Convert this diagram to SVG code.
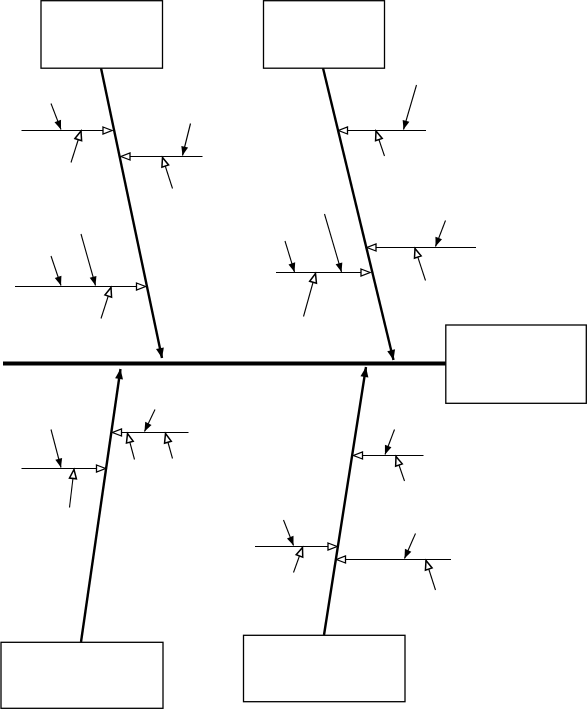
<svg xmlns="http://www.w3.org/2000/svg" width="587" height="709" viewBox="0 0 587 709">
<style>
.box{fill:#fff;stroke:#000;stroke-width:1.3}
.spine{stroke:#000;stroke-width:4;fill:none}
.bone{stroke:#000;stroke-width:2.4;fill:none;marker-end:url(#mBone)}
.rib{stroke:#000;stroke-width:1.2;fill:none;marker-end:url(#mRib)}
.subd{stroke:#000;stroke-width:1.1;fill:none;marker-end:url(#mFill)}
.subu{stroke:#000;stroke-width:1.1;fill:none;marker-end:url(#mHollow)}
</style>
<defs>
<marker id="mBone" markerUnits="userSpaceOnUse" markerWidth="12" markerHeight="10" refX="10" refY="4" orient="auto" overflow="visible"><path d="M0,0 L10,4 L0,8 z" fill="#000"/></marker>
<marker id="mRib" markerUnits="userSpaceOnUse" markerWidth="12" markerHeight="10" refX="9" refY="3.5" orient="auto" overflow="visible"><path d="M0,0 L9,3.5 L0,7 z" fill="#fff" stroke="#000" stroke-width="1.3"/></marker>
<marker id="mFill" markerUnits="userSpaceOnUse" markerWidth="12" markerHeight="10" refX="9" refY="3.5" orient="auto" overflow="visible"><path d="M0,0 L9,3.5 L0,7 z" fill="#000"/></marker>
<marker id="mHollow" markerUnits="userSpaceOnUse" markerWidth="12" markerHeight="10" refX="9" refY="3.5" orient="auto" overflow="visible"><path d="M0,0 L9,3.5 L0,7 z" fill="#fff" stroke="#000" stroke-width="1.5"/></marker>
</defs>
<rect width="587" height="709" fill="#fff"/>
<g id="connectors">
<line class="spine" x1="3" y1="363.5" x2="446" y2="363.5"/>
<line class="bone" x1="101" y1="68" x2="162" y2="358"/>
<line class="bone" x1="323" y1="68" x2="393.5" y2="360"/>
<line class="bone" x1="81" y1="642" x2="120.5" y2="369"/>
<line class="bone" x1="324" y1="635" x2="366" y2="367"/>
<!-- top-left ribs -->
<line class="rib" x1="21.5" y1="130.5" x2="112" y2="130.5"/>
<line class="subd" x1="51" y1="103.5" x2="61" y2="129.5"/>
<line class="subu" x1="71" y1="162.5" x2="81" y2="131"/>
<line class="rib" x1="202.5" y1="156.5" x2="121" y2="156.5"/>
<line class="subd" x1="190.5" y1="123.5" x2="182.5" y2="155.5"/>
<line class="subu" x1="172.5" y1="188.5" x2="162.5" y2="157.5"/>
<line class="rib" x1="15" y1="286.5" x2="145.5" y2="286.5"/>
<line class="subd" x1="51" y1="256" x2="61" y2="285.5"/>
<line class="subd" x1="81" y1="234" x2="95.5" y2="285.5"/>
<line class="subu" x1="101" y1="318.5" x2="111" y2="287.5"/>
<!-- top-right ribs -->
<line class="rib" x1="426" y1="130.5" x2="338.5" y2="130.5"/>
<line class="subd" x1="416.5" y1="85" x2="403.5" y2="129.5"/>
<line class="subu" x1="384.5" y1="156" x2="376" y2="131"/>
<line class="rib" x1="476" y1="247.5" x2="367" y2="247.5"/>
<line class="subd" x1="445.5" y1="220.5" x2="435.5" y2="246.5"/>
<line class="subu" x1="425.5" y1="280.5" x2="415" y2="248.5"/>
<line class="rib" x1="276" y1="272.5" x2="370" y2="272.5"/>
<line class="subd" x1="285" y1="241" x2="294.5" y2="272"/>
<line class="subd" x1="324.5" y1="214" x2="341.5" y2="272"/>
<line class="subu" x1="303.5" y1="316.5" x2="315.5" y2="273.5"/>
<!-- bottom-left ribs -->
<line class="rib" x1="188.5" y1="432.5" x2="112.5" y2="432.5"/>
<line class="subd" x1="155" y1="409.5" x2="144.5" y2="431.5"/>
<line class="subu" x1="134.5" y1="459.5" x2="127.5" y2="433.5"/>
<line class="subu" x1="172.5" y1="458.5" x2="165.5" y2="433.5"/>
<line class="rib" x1="21.5" y1="468.5" x2="105.5" y2="468.5"/>
<line class="subd" x1="51" y1="429.5" x2="61" y2="467.5"/>
<line class="subu" x1="69.5" y1="507.5" x2="74" y2="469.5"/>
<!-- bottom-right ribs -->
<line class="rib" x1="423.5" y1="455.5" x2="353.5" y2="455.5"/>
<line class="subd" x1="394.5" y1="429.5" x2="385" y2="454.5"/>
<line class="subu" x1="404.5" y1="481" x2="396" y2="456.5"/>
<line class="rib" x1="255" y1="546.5" x2="337" y2="546.5"/>
<line class="subd" x1="283.5" y1="520" x2="293.5" y2="545.5"/>
<line class="subu" x1="293.5" y1="572.5" x2="302.5" y2="547.5"/>
<line class="rib" x1="451" y1="559.5" x2="336.5" y2="559.5"/>
<line class="subd" x1="415.5" y1="533.5" x2="404.5" y2="558.5"/>
<line class="subu" x1="435.5" y1="590" x2="426" y2="560.5"/>
</g>
<g id="cause-top-left"><rect class="box" x="41" y="0.7" width="121.5" height="67.5"/></g>
<g id="cause-top-right"><rect class="box" x="263.5" y="0.7" width="121" height="67.5"/></g>
<g id="effect"><rect class="box" x="445.8" y="325" width="140.5" height="78.3"/></g>
<g id="cause-bottom-left"><rect class="box" x="1" y="642.3" width="162" height="66"/></g>
<g id="cause-bottom-right"><rect class="box" x="243.5" y="635.3" width="161.5" height="66.4"/></g>
</svg>
